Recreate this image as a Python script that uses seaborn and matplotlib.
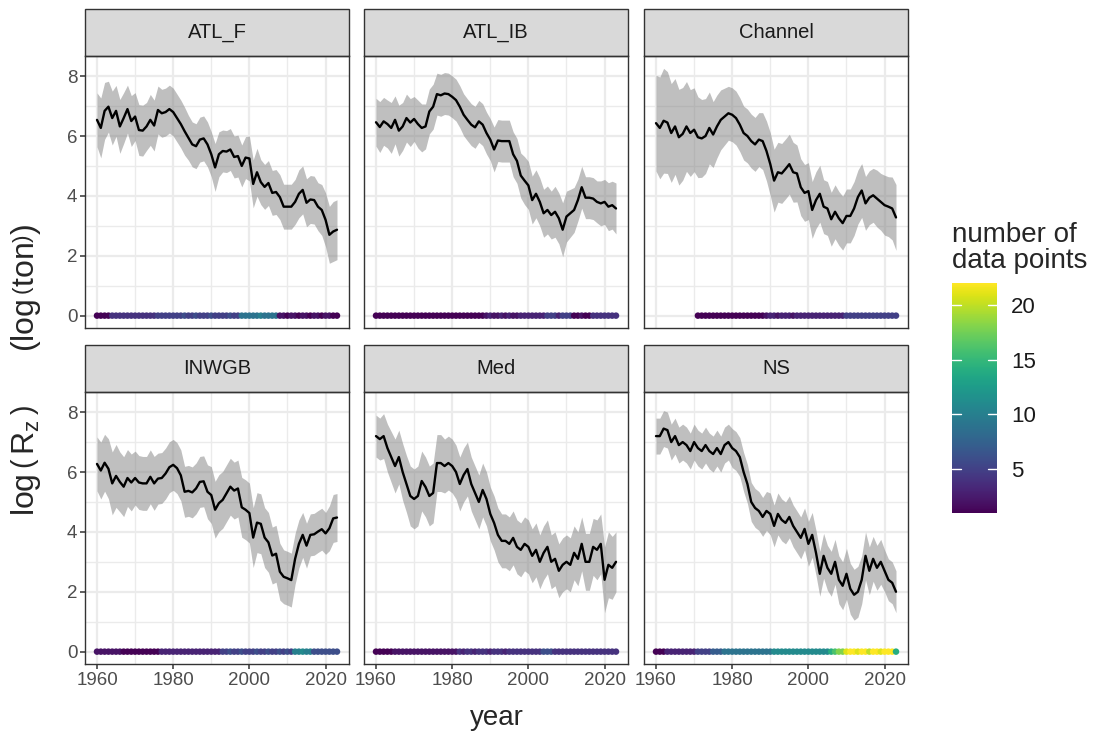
import numpy as np
import pandas as pd
import matplotlib.pyplot as plt
import matplotlib as mpl
from matplotlib.patches import Rectangle
import seaborn as sns

# ---- data ----
years = list(range(1960, 2024))
regions = ["ATL_F", "ATL_IB", "Channel", "INWGB", "Med", "NS"]
nan = np.nan

atl_f_mean = [6.54, 6.27, 6.84, 6.98, 6.6, 6.84, 6.32, 6.6, 6.9, 6.5,
              6.65, 6.2, 6.18, 6.32, 6.54, 6.35, 6.87, 6.76, 6.8, 6.9,
              6.8, 6.6, 6.4, 6.16, 5.94, 5.72, 5.66, 5.88, 5.92, 5.72,
              5.39, 4.95, 5.39, 5.5, 5.48, 5.55, 5.3, 5.33, 5.0, 5.28,
              5.25, 4.4, 4.79, 4.46, 4.3, 4.43, 4.1, 4.13, 3.96, 3.64,
              3.64, 3.64, 3.8, 4.07, 4.2, 3.77, 3.88, 3.86, 3.64, 3.53,
              3.2, 2.7, 2.81, 2.87]
atl_f_ci = [0.9, 1.0, 0.95, 0.85, 0.9, 0.85, 0.9, 0.85, 0.8, 0.85,
            0.8, 0.85, 0.85, 0.8, 0.85, 0.85, 0.8, 0.8, 0.8, 0.8,
            0.8, 0.8, 0.8, 0.8, 0.75, 0.75, 0.75, 0.75, 0.75, 0.75,
            0.75, 0.8, 0.75, 0.7, 0.7, 0.7, 0.7, 0.7, 0.7, 0.7,
            0.75, 0.8, 0.8, 0.75, 0.75, 0.75, 0.75, 0.75, 0.75, 0.75,
            0.75, 0.75, 0.75, 0.8, 0.8, 0.8, 0.8, 0.8, 0.8, 0.85,
            0.9, 0.95, 1.0, 1.0]
atl_f_n = [1, 1, 1, 1, 4, 4, 4, 4, 4, 4,
           4, 4, 4, 4, 4, 4, 5, 5, 5, 5,
           5, 5, 5, 6, 5, 5, 6, 5, 5, 5,
           6, 5, 5, 5, 5, 6, 5, 5, 9, 9,
           9, 9, 9, 10, 9, 9, 9, 9, 2, 2,
           1, 2, 2, 1, 2, 2, 1, 2, 2, 1,
           2, 2, 1, 1]

atl_ib_mean = [6.46, 6.3, 6.49, 6.4, 6.27, 6.54, 6.18, 6.32, 6.6, 6.45,
               6.57, 6.4, 6.27, 6.32, 6.82, 6.98, 7.4, 7.36, 7.42, 7.4,
               7.31, 7.2, 6.98, 6.71, 6.54, 6.38, 6.29, 6.49, 6.38, 6.1,
               5.88, 5.55, 5.85, 5.83, 5.83, 5.83, 5.39, 5.17, 4.68, 4.51,
               4.35, 3.86, 4.07, 3.8, 3.42, 3.53, 3.36, 3.47, 3.25, 2.87,
               3.31, 3.42, 3.53, 3.86, 4.29, 3.94, 3.94, 3.91, 3.8, 3.75,
               3.8, 3.64, 3.69, 3.58]
atl_ib_ci = [0.8, 0.85, 0.8, 0.8, 0.85, 0.8, 0.85, 0.8, 0.8, 0.8,
             0.75, 0.8, 0.8, 0.75, 0.75, 0.75, 0.7, 0.7, 0.7, 0.7,
             0.7, 0.7, 0.7, 0.7, 0.7, 0.7, 0.7, 0.7, 0.7, 0.7,
             0.7, 0.75, 0.7, 0.7, 0.7, 0.7, 0.75, 0.75, 0.75, 0.8,
             0.8, 0.8, 0.8, 0.8, 0.8, 0.8, 0.8, 0.85, 0.85, 0.9,
             0.85, 0.8, 0.75, 0.7, 0.7, 0.7, 0.7, 0.7, 0.7, 0.75,
             0.75, 0.8, 0.8, 0.85]
atl_ib_n = [1, 1, 1, 1, 1, 1, 1, 1, 1, 1,
            1, 1, 1, 1, 1, 1, 1, 1, 1, 1,
            1, 1, 1, 1, 1, 1, 1, 1, 1, 2,
            3, 2, 2, 3, 2, 3, 2, 2, 3, 3,
            3, 3, 3, 3, 3, 5, 5, 5, 3, 5,
            5, 5, 1, 1, 2, 1, 1, 4, 4, 4,
            4, 4, 4, 4]

channel_mean = [6.43, 6.27, 6.51, 6.45, 6.1, 6.32, 5.96, 6.07, 6.32, 6.1,
                6.21, 5.96, 5.92, 6.0, 6.27, 6.05, 6.32, 6.54, 6.65, 6.76,
                6.71, 6.6, 6.38, 6.1, 6.0, 5.83, 5.72, 5.88, 5.83, 5.5,
                5.06, 4.51, 4.79, 4.75, 4.9, 5.06, 4.79, 4.75, 4.29, 4.1,
                4.16, 3.53, 3.86, 4.07, 3.64, 3.58, 3.22, 3.47, 3.25, 3.09,
                3.33, 3.33, 3.58, 3.96, 4.18, 3.75, 3.94, 4.02, 3.91, 3.8,
                3.69, 3.64, 3.58, 3.28]
channel_ci = [1.6, 1.7, 1.75, 1.7, 1.65, 1.6, 1.6, 1.55, 1.5, 1.45,
              1.4, 1.35, 1.3, 1.25, 1.2, 1.1, 1.05, 1.0, 0.95, 0.9,
              0.9, 0.9, 0.9, 0.9, 0.9, 0.9, 0.9, 0.9, 0.95, 1.0,
              1.05, 1.05, 1.0, 1.0, 1.0, 1.0, 1.0, 0.95, 0.95, 0.95,
              0.95, 0.95, 0.95, 0.95, 0.9, 0.9, 0.9, 0.9, 0.9, 0.9,
              0.9, 0.9, 0.9, 0.9, 0.9, 0.9, 0.9, 0.9, 0.95, 0.95,
              1.0, 1.0, 1.05, 1.1]
channel_n = [nan, nan, nan, nan, nan, nan, nan, nan, nan, nan,
             nan, 1, 1, 1, 1, 1, 1, 1, 1, 1,
             1, 1, 1, 1, 1, 1, 1, 1, 1, 2,
             3, 3, 2, 3, 3, 3, 2, 3, 3, 3,
             3, 3, 3, 3, 3, 3, 3, 3, 3, 3,
             5, 5, 5, 5, 5, 5, 5, 5, 5, 5,
             5, 5, 5, 5]

inwgb_mean = [6.27, 6.05, 6.31, 6.11, 5.62, 5.87, 5.67, 5.51, 5.8, 5.65,
              5.8, 5.65, 5.62, 5.62, 5.84, 5.62, 5.78, 5.8, 5.95, 6.16,
              6.24, 6.13, 5.89, 5.34, 5.37, 5.32, 5.45, 5.67, 5.69, 5.34,
              5.23, 4.74, 4.96, 5.07, 5.29, 5.51, 5.38, 5.45, 4.82, 4.74,
              4.63, 3.81, 4.31, 4.27, 3.81, 3.65, 3.21, 3.27, 2.67, 2.5,
              2.45, 2.39, 3.1, 3.6, 3.9, 3.54, 3.9, 3.92, 4.01, 4.09,
              3.95, 4.12, 4.45, 4.48]
inwgb_ci = [0.9, 0.95, 0.95, 1.0, 1.05, 1.05, 1.0, 1.0, 0.95, 0.95,
            0.9, 0.9, 0.9, 0.9, 0.9, 0.9, 0.85, 0.85, 0.85, 0.85,
            0.85, 0.85, 0.85, 0.85, 0.85, 0.85, 0.85, 0.85, 0.85, 0.9,
            0.95, 0.95, 0.95, 0.95, 0.95, 0.95, 0.95, 0.95, 1.0, 1.0,
            1.0, 1.0, 1.0, 1.0, 1.0, 1.0, 0.95, 0.95, 0.95, 0.9,
            0.9, 0.9, 0.85, 0.8, 0.75, 0.75, 0.7, 0.7, 0.7, 0.7,
            0.7, 0.75, 0.8, 0.8]
inwgb_n = [2, 2, 2, 2, 2, 2, 2, 1, 1, 1,
           1, 1, 1, 1, 1, 1, 1, 3, 3, 3,
           3, 3, 3, 3, 3, 3, 3, 3, 3, 3,
           3, 3, 3, 5, 5, 6, 5, 5, 6, 5,
           5, 5, 6, 5, 5, 6, 5, 5, 6, 5,
           6, 5, 10, 10, 11, 10, 10, 6, 6, 6,
           6, 6, 6, 6]

med_mean = [7.2, 7.1, 7.2, 6.8, 6.5, 6.2, 6.5, 6.0, 5.6, 5.2,
            5.1, 5.2, 5.7, 5.5, 5.2, 5.3, 6.3, 6.3, 6.2, 6.3,
            6.2, 6.0, 5.6, 5.9, 6.1, 5.6, 5.3, 5.0, 5.4, 5.1,
            4.6, 4.3, 3.9, 3.7, 3.7, 3.6, 3.8, 3.5, 3.4, 3.6,
            3.5, 3.2, 3.4, 3.0, 3.3, 3.5, 3.0, 3.1, 2.7, 2.9,
            3.0, 2.9, 3.3, 3.1, 3.6, 3.0, 3.0, 3.5, 3.4, 3.6,
            2.4, 2.9, 2.8, 3.0]
med_ci = [0.7, 0.7, 0.75, 0.8, 0.85, 0.9, 0.9, 0.95, 0.95, 1.0,
          1.0, 1.0, 1.0, 1.0, 1.0, 1.0, 0.95, 0.95, 0.9, 0.9,
          0.9, 0.9, 0.9, 0.9, 0.9, 0.9, 0.9, 0.9, 0.9, 0.9,
          0.9, 0.9, 0.9, 0.9, 0.9, 0.9, 0.9, 0.9, 0.9, 0.9,
          0.9, 0.9, 0.9, 0.9, 0.9, 0.9, 0.9, 0.9, 0.9, 0.9,
          0.9, 0.9, 0.9, 0.9, 0.9, 0.95, 0.95, 0.95, 1.0, 1.0,
          1.1, 1.1, 1.05, 1.0]
med_n = [1, 1, 1, 1, 1, 2, 2, 2, 2, 2,
         2, 2, 2, 2, 2, 2, 2, 2, 2, 2,
         2, 2, 4, 3, 4, 4, 3, 4, 4, 4,
         3, 4, 4, 4, 3, 4, 4, 4, 4, 4,
         4, 4, 4, 4, 6, 6, 6, 4, 4, 4,
         4, 4, 4, 4, 4, 4, 4, 4, 4, 4,
         4, 4, 4, 4]

ns_mean = [7.2, 7.2, 7.45, 7.4, 7.0, 7.2, 6.9, 7.0, 6.9, 6.7,
           7.0, 6.8, 6.7, 6.9, 6.7, 6.6, 6.8, 6.6, 6.9, 7.0,
           6.8, 6.7, 6.5, 6.0, 5.6, 5.0, 4.8, 4.7, 4.5, 4.7,
           4.6, 4.2, 4.6, 4.4, 4.3, 4.5, 4.2, 4.0, 3.8, 4.1,
           3.6, 3.9, 3.3, 2.6, 3.2, 2.8, 2.6, 3.0, 2.4, 2.2,
           2.6, 2.1, 1.9, 2.0, 2.4, 3.2, 2.7, 3.1, 2.8, 3.0,
           2.7, 2.4, 2.3, 2.0]
ns_ci = [0.6, 0.6, 0.6, 0.6, 0.6, 0.6, 0.6, 0.6, 0.6, 0.6,
         0.6, 0.6, 0.6, 0.6, 0.6, 0.6, 0.6, 0.6, 0.6, 0.6,
         0.65, 0.65, 0.65, 0.65, 0.65, 0.65, 0.65, 0.65, 0.65, 0.65,
         0.7, 0.7, 0.7, 0.7, 0.7, 0.7, 0.7, 0.7, 0.7, 0.7,
         0.75, 0.75, 0.75, 0.75, 0.75, 0.75, 0.75, 0.75, 0.8, 0.8,
         0.85, 0.85, 0.85, 0.85, 0.8, 0.8, 0.8, 0.75, 0.75, 0.75,
         0.7, 0.7, 0.7, 0.7]
ns_n = [1, 1, 1, 3, 3, 3, 3, 3, 3, 3,
        3, 5, 5, 5, 5, 7, 7, 7, 9, 9,
        9, 9, 9, 9, 9, 9, 9, 9, 9, 9,
        9, 11, 11, 11, 11, 11, 11, 11, 11, 11,
        11, 11, 11, 11, 11, 11, 14, 16, 18, 18,
        21, 22, 22, 21, 22, 22, 20, 22, 22, 21,
        22, 22, 22, 14]

series = {
    "ATL_F": (atl_f_mean, atl_f_ci, atl_f_n),
    "ATL_IB": (atl_ib_mean, atl_ib_ci, atl_ib_n),
    "Channel": (channel_mean, channel_ci, channel_n),
    "INWGB": (inwgb_mean, inwgb_ci, inwgb_n),
    "Med": (med_mean, med_ci, med_n),
    "NS": (ns_mean, ns_ci, ns_n),
}

frames = []
for reg in regions:
    m, ci, n = series[reg]
    d = pd.DataFrame({"year": years, "log_rz": m, "ci": ci, "n": n})
    d["lower"] = d.log_rz - d.ci
    d["upper"] = d.log_rz + d.ci
    d["base"] = 0.0
    d["region"] = reg
    frames.append(d)
df = pd.concat(frames, ignore_index=True)

# ---- style ----
sns.set_theme(style="white")
plt.rcParams["font.family"] = ["Liberation Sans", "DejaVu Sans"]
plt.rcParams["mathtext.fontset"] = "custom"
plt.rcParams["mathtext.rm"] = "Liberation Sans"
plt.rcParams["mathtext.it"] = "Liberation Sans:italic"

norm = mpl.colors.Normalize(vmin=df.n.min(), vmax=df.n.max())


def draw_panel(data, **kws):
    ax = plt.gca()
    ax.fill_between(data.year, data.lower, data.upper, color="grey",
                    alpha=0.5, lw=0, zorder=2)
    sns.lineplot(data=data, x="year", y="log_rz", color="black", lw=1.7,
                 ax=ax, zorder=3)
    pts = data.dropna(subset=["n"])
    sns.scatterplot(data=pts, x="year", y="base", hue="n", palette="viridis",
                    hue_norm=norm, s=22, linewidth=0, legend=False, ax=ax,
                    zorder=4)


g = sns.FacetGrid(df, col="region", col_wrap=3, col_order=regions,
                  sharex=True, sharey=True, height=3, aspect=1)
g.map_dataframe(draw_panel)
g.set_titles("")
g.set_axis_labels("", "")

fig = g.figure
fig.set_size_inches(11, 7.36)

W, H = 1100, 736
lefts = [85 / W, 364 / W, 644 / W]
bottoms = [1 - 328 / H, 1 - 664 / H]
pw, ph = 264 / W, 272 / H
strip_h = 47 / 272

ylo = min(0, df.lower.min())
yhi = df.upper.max()
yr = yhi - ylo
xr = max(years) - min(years)

for i, ax in enumerate(g.axes.flat):
    r, c = divmod(i, 3)
    ax.set_position([lefts[c], bottoms[r], pw, ph])
    ax.set_xlim(min(years) - 0.05 * xr, max(years) + 0.05 * xr)
    ax.set_ylim(ylo - 0.05 * yr, yhi + 0.05 * yr)
    ax.set_xticks([1960, 1980, 2000, 2020])
    ax.set_xticks([1970, 1990, 2010], minor=True)
    ax.set_yticks([0, 2, 4, 6, 8])
    ax.set_yticks([1, 3, 5, 7], minor=True)
    ax.set_axisbelow(True)
    ax.grid(which="major", color="#EBEBEB", lw=1.6)
    ax.grid(which="minor", color="#EBEBEB", lw=1.0)
    ax.tick_params(which="major", direction="out", length=3.5, width=1.1,
                   color="#333333", labelsize=13.5, labelcolor="#4D4D4D",
                   pad=2, bottom=(r == 1), left=(c == 0),
                   labelbottom=(r == 1), labelleft=(c == 0))
    ax.tick_params(which="minor", length=0)
    for sp in ax.spines.values():
        sp.set_visible(True)
        sp.set_color("#333333")
        sp.set_linewidth(1.0)
    ax.set_xlabel("")
    ax.set_ylabel("")
    ax.add_patch(Rectangle((0, 1), 1, strip_h, transform=ax.transAxes,
                           clip_on=False, facecolor="#D9D9D9",
                           edgecolor="#333333", lw=1.0))
    ax.text(0.5, 1 + strip_h / 2, regions[i], transform=ax.transAxes,
            ha="center", va="center", fontsize=14.5, color="#1A1A1A")

fig.text(496.5 / W, 1 - 718 / H, "year", ha="center", va="center", fontsize=20)
fig.text(26 / W, 1 - 370 / H,
         r"log$\,\left(\,\mathrm{R_z}\,\right)$      $\left(\mathrm{log}\,\left(\mathrm{ton}\right)\right)$",
         rotation=90, ha="center", va="center", fontsize=23)

# colour bar legend
cax = fig.add_axes([952 / W, 1 - 513 / H, 45 / W, 230 / H])
sm = mpl.cm.ScalarMappable(norm=norm, cmap="viridis")
cb = fig.colorbar(sm, cax=cax)
cb.outline.set_visible(False)
cb.set_ticks([5, 10, 15, 20])
cax.tick_params(length=0, pad=10, labelsize=16, labelcolor="#1A1A1A")
for v in [5, 10, 15, 20]:
    cax.plot([0, 0.2], [v, v], color="white", lw=1, transform=cax.get_yaxis_transform())
    cax.plot([0.8, 1], [v, v], color="white", lw=1, transform=cax.get_yaxis_transform())
fig.text(952 / W, 1 - 274 / H, "number of\ndata points", ha="left", va="bottom",
         fontsize=20, linespacing=1.0)

fig.savefig("out.png", dpi=100)
